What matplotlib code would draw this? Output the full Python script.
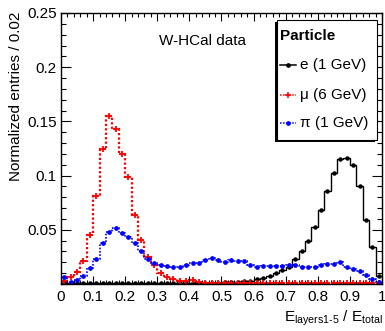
import numpy as np
import matplotlib
matplotlib.use("Agg")
import matplotlib.pyplot as plt
from matplotlib.patches import Rectangle
from matplotlib.lines import Line2D
from matplotlib.ticker import MultipleLocator, FixedLocator

plt.rcParams['font.family'] = ['Liberation Sans', 'DejaVu Sans']
plt.rcParams['mathtext.fontset'] = 'custom'
plt.rcParams['mathtext.rm'] = 'Liberation Sans'
plt.rcParams['mathtext.it'] = 'Liberation Sans:italic'

# 50 bins of width 0.02 between 0 and 1
edges = np.linspace(0, 1, 51)

electron = [0.0005, 0.0005, 0.0005, 0.0005, 0.0005, 0.0005, 0.0005, 0.0005, 0.0005, 0.0005,
            0.0005, 0.0005, 0.0005, 0.0005, 0.0005, 0.0005, 0.0005, 0.0005, 0.0005, 0.0005,
            0.001, 0.001, 0.001, 0.001, 0.0012, 0.0015, 0.0018, 0.002, 0.0025, 0.003,
            0.0043, 0.0059, 0.0077, 0.0099, 0.013, 0.016, 0.0229, 0.0306, 0.040, 0.0525,
            0.068, 0.0855, 0.1025, 0.115, 0.1164, 0.110, 0.090, 0.059, 0.0345, 0.0074]

muon = [0.003, 0.006, 0.011, 0.021, 0.045, 0.081, 0.125, 0.155, 0.143, 0.120,
        0.099, 0.064, 0.041, 0.025, 0.0175, 0.0105, 0.0068, 0.0046, 0.003, 0.003,
        0.0035, 0.002, 0.0012, 0.001, 0.001, 0.001, 0.001, 0.001, 0.001, 0.001,
        0.001, 0.001, 0.001, 0.001, 0.001, 0.001, 0.001, 0.001, 0.001, 0.001,
        0.001, 0.001, 0.001, 0.001, 0.001, 0.001, 0.001, 0.001, 0.001, 0.001]

pion = [0.006, 0.002, 0.004, 0.0075, 0.0145, 0.023, 0.0375, 0.048, 0.0515, 0.047,
        0.0435, 0.038, 0.0305, 0.023, 0.0195, 0.0175, 0.0165, 0.0155, 0.0154, 0.0176,
        0.0198, 0.0198, 0.022, 0.0238, 0.022, 0.0207, 0.022, 0.021, 0.021, 0.0176,
        0.016, 0.0165, 0.0165, 0.0167, 0.0167, 0.0176, 0.0176, 0.0154, 0.016, 0.016,
        0.0176, 0.018, 0.018, 0.020, 0.0154, 0.014, 0.0123, 0.0083, 0.0043, 0.002]

xticks = [0, 0.1, 0.2, 0.3, 0.4, 0.5, 0.6, 0.7, 0.8, 0.9, 1.0]
xticklabels = ['0', '0.1', '0.2', '0.3', '0.4', '0.5', '0.6', '0.7', '0.8', '0.9', '1']
yticks = [0.05, 0.1, 0.15, 0.2, 0.25]
yticklabels = ['0.05', '0.1', '0.15', '0.2', '0.25']

W, H = 385, 331
def fx(px):
    return px / W
def fy(py):
    return 1 - py / H

fig = plt.figure(figsize=(3.85, 3.31), dpi=100)
ax = fig.add_axes([fx(61), fy(284), (382 - 61) / W, (284 - 13) / H])

centers = 0.5 * (edges[:-1] + edges[1:])

ax.stairs(electron, edges, color='black', lw=1.0, baseline=None)
ax.plot(centers, electron, 'o', color='black', ms=2.2, ls='none')

ax.stairs(muon, edges, color='red', lw=1.6, ls=(0, (1, 1)), baseline=None)
ax.plot(centers, muon, '+', color='red', ms=4.5, mew=1.3, ls='none')

ax.stairs(pion, edges, color='blue', lw=1.2, ls=(0, (1, 1)), baseline=None)
ax.plot(centers, pion, 'o', color='blue', ms=2.4, ls='none')

ax.set_xlim(0, 1)
ax.set_ylim(0, 0.25)
ax.xaxis.set_major_locator(FixedLocator(xticks))
ax.xaxis.set_minor_locator(MultipleLocator(0.02))
ax.yaxis.set_major_locator(FixedLocator(yticks))
ax.yaxis.set_minor_locator(MultipleLocator(0.01))
ax.set_xticklabels(xticklabels)
ax.set_yticklabels(yticklabels)
ax.tick_params(axis='both', which='both', direction='in', top=True, right=True, labelsize=11, width=0.8)
ax.tick_params(axis='x', which='major', length=6, pad=4)
ax.tick_params(axis='x', which='minor', length=3)
ax.tick_params(axis='y', which='major', length=7.5, pad=3)
ax.tick_params(axis='y', which='minor', length=3.8)
for s in ax.spines.values():
    s.set_linewidth(1.0)

fig.text(fx(16), fy(12), 'Normalized entries / 0.02', rotation=90, ha='center', va='top', fontsize=11)
fig.text(fx(383), fy(322), r'$\mathrm{E_{layers1\text{-}5}}$ / $\mathrm{E_{total}}$', ha='right', va='baseline', fontsize=11)

fig.text(fx(159), fy(41), 'W-HCal data', ha='left', va='center', fontsize=11)

# legend box with shadow
shadow = Rectangle((fx(275), fy(142)), fx(100), (140 - 20) / H, transform=fig.transFigure,
                   facecolor='black', edgecolor='black', lw=0, zorder=5)
box = Rectangle((fx(277), fy(140)), fx(100), (140 - 20) / H, transform=fig.transFigure,
                facecolor='white', edgecolor='black', lw=0.8, zorder=6)
fig.patches.extend([shadow, box])
fig.text(fx(280), fy(36), 'Particle', fontweight='bold', ha='left', va='center', fontsize=11, zorder=7)

entries = [('e (1 GeV)', 'black', '-', 'o', 65),
           ('\u03bc (6 GeV)', 'red', (0, (1, 1)), '+', 95),
           ('\u03c0 (1 GeV)', 'blue', (0, (1, 1)), 'o', 123)]
for label, col, ls, mk, py in entries:
    fig.lines.append(Line2D([fx(280), fx(296)], [fy(py), fy(py)], transform=fig.transFigure,
                            color=col, ls=ls, lw=1.1, zorder=7))
    fig.lines.append(Line2D([fx(288)], [fy(py)], transform=fig.transFigure, color=col,
                            marker=mk, ms=2.3 if mk == 'o' else 4, mew=1.1, zorder=8))
    fig.text(fx(300), fy(py), label, ha='left', va='center', fontsize=11, zorder=7)

fig.savefig('out.png', dpi=100)
